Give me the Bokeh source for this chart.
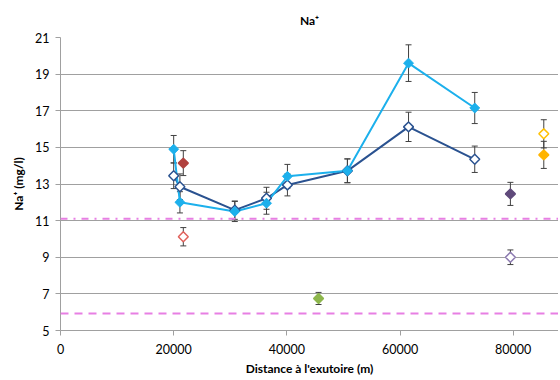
from bokeh.plotting import figure
from bokeh.models import Whisker, ColumnDataSource, Span, FixedTicker, Range1d
from bokeh.embed import file_html
from bokeh.resources import INLINE
import math

# Main series (distance in m, Na+ in mg/l)
dist = [20000, 21100, 30800, 36400, 40100, 50700, 61500, 73200]
na_a = [14.9, 12.0, 11.5, 11.95, 13.42, 13.72, 19.6, 17.15]
err_a = [0.75, 0.58, 0.55, 0.6, 0.65, 0.65, 1.0, 0.85]
na_b = [13.45, 12.85, 11.57, 12.22, 12.95, 13.72, 16.12, 14.35]
err_b = [0.7, 0.7, 0.5, 0.6, 0.6, 0.65, 0.8, 0.72]

# Isolated points
pt_x = [21700, 21700, 45600, 79500, 79500, 85400, 85400]
pt_y = [14.14, 10.12, 6.75, 12.46, 9.0, 15.74, 14.59]
pt_err = [0.68, 0.5, 0.33, 0.63, 0.4, 0.77, 0.74]
pt_color = ["#B0413E", "#E0605A", "#8DB64C", "#604A7B", "#8C7AB0", "#FFC000", "#FFB400"]
pt_filled = [True, False, True, True, False, False, True]

# Reference levels
ref_dashdot = 11.1
ref_dash = 5.93

y_ticks = [5, 7, 9, 11, 13, 15, 17, 19, 21]
x_ticks = [0, 20000, 40000, 60000, 80000]

FONT = "Lato"

p = figure(width=558, height=378, output_backend="svg", toolbar_location=None,
           x_range=Range1d(0, 88000), y_range=Range1d(5, 21),
           title="Na\u207a", min_border_left=60, min_border_right=0,
           min_border_top=36, min_border_bottom=44)
p.outline_line_color = None
p.background_fill_color = "white"
p.border_fill_color = "white"

p.title.align = "center"
p.title.text_font = FONT
p.title.text_font_size = "12px"
p.title.text_font_style = "bold"
p.title.text_color = "#000000"
p.title.standoff = 20

p.xgrid.visible = False
p.ygrid.grid_line_color = "#A0A0A0"
p.ygrid.grid_line_width = 1
p.yaxis.ticker = FixedTicker(ticks=y_ticks)
p.xaxis.ticker = FixedTicker(ticks=x_ticks)
p.xaxis.minor_tick_line_color = None
p.yaxis.minor_tick_line_color = None
for ax in (p.xaxis[0], p.yaxis[0]):
    ax.axis_line_color = "#A0A0A0"
    ax.major_tick_line_color = "#A0A0A0"
    ax.major_tick_out = 5
    ax.major_tick_in = 0
    ax.major_label_text_font = FONT
    ax.major_label_text_font_size = "12.5px"
    ax.major_label_text_color = "#000000"
    ax.axis_label_text_font = FONT
    ax.axis_label_text_font_size = "12px"
    ax.axis_label_text_font_style = "bold"
    ax.axis_label_text_color = "#000000"
p.xaxis.axis_label = "Distance à l'exutoire (m)"
p.yaxis.axis_label = "Na\u207a (mg/l)"
p.xaxis.formatter.use_scientific = False
p.xaxis.major_label_standoff = 8
p.xaxis.axis_label_standoff = 4
p.yaxis.major_label_standoff = 6
p.yaxis.axis_label_standoff = 6

# reference lines
p.add_layout(Span(location=ref_dashdot, dimension="width", line_color="#E77FE3",
                  line_width=2, line_dash="7 6 2 6"))
p.add_layout(Span(location=ref_dash, dimension="width", line_color="#E77FE3",
                  line_width=2, line_dash="8 6"))

def add_err(xs, ys, errs, color):
    src = ColumnDataSource(dict(x=xs, lo=[y - e for y, e in zip(ys, errs)],
                                hi=[y + e for y, e in zip(ys, errs)]))
    w = Whisker(base="x", lower="lo", upper="hi", source=src, line_color=color,
                line_width=1)
    w.upper_head.size = 6
    w.lower_head.size = 6
    w.upper_head.line_color = color
    w.lower_head.line_color = color
    p.add_layout(w)

add_err(dist, na_a, err_a, "#404040")
add_err(dist, na_b, err_b, "#404040")
add_err(pt_x, pt_y, pt_err, "#404040")

ang = math.pi / 4
p.line(dist, na_b, line_color="#2A5290", line_width=2)
p.line(dist, na_a, line_color="#1CB0EC", line_width=2)
p.scatter(dist, na_b, marker="square", angle=ang, size=7, fill_color="white",
          line_color="#2A5290", line_width=1.5)
p.scatter(dist, na_a, marker="square", angle=ang, size=7, fill_color="#1CB0EC",
          line_color="#1CB0EC", line_width=1)

for x, y, c, f in zip(pt_x, pt_y, pt_color, pt_filled):
    p.scatter([x], [y], marker="square", angle=ang, size=7,
              fill_color=c if f else "white", line_color=c, line_width=1.5)

open("out.html", "w").write(file_html(p, INLINE))
